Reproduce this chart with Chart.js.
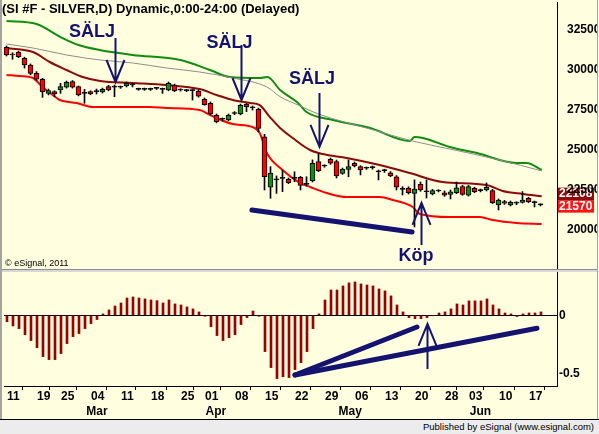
<!DOCTYPE html>
<html>
<head>
<meta charset="utf-8">
<title>SI #F - SILVER,D</title>
<script src="https://cdn.jsdelivr.net/npm/chart.js@4.4.1/dist/chart.umd.min.js"></script>
<style>
  html, body { margin: 0; padding: 0; background: #fff; }
  #frame { position: relative; width: 599px; height: 434px; overflow: hidden; }
  #panel { position: absolute; left: 0; top: 0; width: 597px; height: 419px; background: #ffffe0; }
  #edgeLeft { position: absolute; left: 0; top: 0; width: 2px; height: 419px; background: #a4a4a4; }
  #edgeRight { position: absolute; left: 597px; top: 0; width: 1px; height: 419px; background: #a4a4a4; }
  #split { position: absolute; left: 0; top: 269px; width: 597px; height: 3px; background: #d8d8d8; border-top: 1px solid #8c8c8c; box-sizing: border-box; }
  #priceChart { position: absolute; left: 0; top: 0; }
  #oscChart { position: absolute; left: 0; top: 272px; }
  #footer { position: absolute; left: 0; top: 419px; width: 599px; height: 15px; background: #ececec;
            border-top: 1px solid #000; box-sizing: border-box; text-align: right; padding-right: 5px;
            font: 9.5px 'Liberation Sans', Arial, sans-serif; line-height: 14px; color: #000; }
</style>
</head>
<body>
<div id="frame">
  <div id="panel"></div>
  <canvas id="priceChart" width="597" height="269"></canvas>
  <div id="split"></div>
  <canvas id="oscChart" width="597" height="146"></canvas>
  <div id="edgeLeft"></div>
  <div id="edgeRight"></div>
  <div id="footer">Published by eSignal (www.esignal.com)</div>
</div>
<script>
// --- daily bars (index 0 = first bar on the left) ---
const opens  = [31420,30980,31110,30730,30310,29790,29420,28540,28650,28750,28920,29270,28960,28540,28650,28650,28625,28960,28920,28920,
                29000,29060,28790,28790,28790,28850,28790,28750,29060,28750,28710,28710,28670,28170,27920,27170,26920,26880,27280,27250,
                27850,27640,27540,25830,22670,23130,23230,23170,23230,23290,22850,23080,24270,24000,24420,24270,23540,23790,24170,23960,
                23860,23900,23640,23710,23580,23330,22540,22600,22290,22850,22390,22250,22440,22330,22230,22330,22710,22170,22600,22460,
                22500,22460,21560,21770,21560,21670,21730,21980,21710,21570];
const highs  = [31500,31080,31170,30800,30380,29900,29480,28810,28700,29170,29310,29340,29000,28790,28700,28810,28870,29040,29060,29000,
                29250,29150,28870,28870,28870,28920,28870,29250,29120,28830,28790,28790,28750,28250,28000,27250,27000,27250,27400,27870,
                27920,27750,27620,25980,23960,23380,23750,23250,23640,23350,23330,24380,24790,24080,24500,24370,23870,24380,24250,24020,
                23940,24000,23750,23800,23650,23400,22710,22700,23130,23000,23130,22540,22520,22440,22500,23000,22790,22790,22670,22560,
                22940,22540,21940,21850,21810,21770,22400,22040,21810,21640];
const lows   = [30875,30670,30770,30120,29700,29350,28290,28440,28330,28540,28870,28870,28380,27920,28450,28500,28560,28700,28330,28850,
                28940,28940,28730,28730,28720,28780,28540,28700,28650,28680,28650,28120,28300,27800,27180,26700,26800,26830,27200,27200,
                27400,27500,26140,22500,21980,22290,22400,22900,23020,22500,22750,23000,23650,23920,24100,23250,23480,23330,23940,23440,
                23790,23800,23130,23600,23330,22500,22190,22250,20190,22420,22000,22190,22380,22100,21940,22270,22170,22120,22330,22380,
                22440,21650,21250,21600,21500,21580,21680,21710,21440,21500];
const closes = [30940,30940,30830,30310,29790,29420,28650,28720,28500,28960,29230,28920,28440,28540,28500,28650,28790,28750,28920,28920,
                29170,29060,28790,28790,28790,28850,28790,29170,28710,28750,28710,28710,28370,27840,27250,26770,26920,27170,27280,27790,
                27710,27640,26350,23330,23540,23130,23230,22960,23230,22790,22850,24170,23710,24000,24170,23380,23790,23960,24000,23750,
                23860,23900,23640,23710,23380,22670,22540,22330,22560,22500,22390,22460,22440,22170,22390,22630,22230,22710,22390,22460,
                22670,21710,21870,21670,21730,21670,21870,21770,21710,21570];

// --- overlay lines, read at (bar index, value) points ---
const greenIdx = [0,5,9,12,15.5,21,29,33.9,37.2,42.2,43.5,45.6,48.6,50,54.4,60.6,67.2,68,69.4,73.9,78.4,85,86.7,89.2];
const greenVal = [33060,32875,32060,31560,31250,30940,30625,30000,29560,29500,29560,28750,27940,27375,26875,26375,25560,25810,25750,25190,24810,24190,24190,23750];
const grayIdx  = [0,4.4,10,15.6,21,26.7,32.2,37.7,43.4,45.6,48.6,52,60.6,67.7,73.9,82.2,89.2];
const grayVal  = [31625,31375,30940,30625,30440,30125,29875,29500,28940,28330,27810,27250,26310,25560,25060,24375,23690];
const upperIdx = [0,4.4,7.2,10,12.7,15.6,21,26.7,32.2,35,37.7,40.6,42.2,43.9,45.6,47.7,50.6,52.7,56.7,62.2,67.2,72.7,80,82.7,86,89.2];
const upperVal = [31375,31125,30500,30000,29560,29310,29190,29060,28810,28440,28125,27940,27810,27060,26375,25750,25000,24750,24500,24060,23560,23000,22810,22440,22250,22108];
const lowerIdx = [0,2.2,4.4,6,7.7,8.9,11.7,14.4,18.4,23.9,26.7,32.2,33.9,37.7,41,42.2,43.4,46,48.9,50.6,53.4,56.7,62.2,64.4,67.7,68.9,73.9,78.9,81,85,89.2];
const lowerVal = [29690,29625,29500,28940,28440,28125,27940,27690,27690,27690,27625,27500,27190,26625,26440,26060,24810,23750,22940,22690,22310,22060,22060,21875,21440,21000,20810,20810,20625,20440,20375];

// --- oscillator histogram ---
const oscValues = [-0.055,-0.092,-0.115,-0.167,-0.218,-0.279,-0.356,-0.382,-0.382,-0.330,-0.244,-0.184,-0.158,-0.115,-0.072,-0.037,0.012,0.046,0.080,0.106,
                   0.149,0.158,0.149,0.141,0.132,0.126,0.106,0.132,0.098,0.089,0.072,0.055,0.029,-0.009,-0.098,-0.175,-0.218,-0.193,-0.167,-0.080,
                   -0.020,0.037,-0.009,-0.313,-0.451,-0.546,-0.529,-0.537,-0.468,-0.408,-0.313,-0.115,0.012,0.132,0.218,0.218,0.253,0.279,0.287,0.270,
                   0.261,0.253,0.227,0.210,0.167,0.089,0.029,-0.020,-0.029,-0.029,-0.020,-0.003,0.020,0.029,0.055,0.098,0.089,0.124,0.124,0.124,
                   0.141,0.089,0.055,0.020,0.012,-0.011,0.012,0.020,0.020,0.029];

// --- axes ---
const dayTicks    = [0,5,9,14,19,24,29,33,38,43,48,53,58,63,68,73,77,82,87];
const dayLabels   = ['11','19','25','04','11','18','25','01','08','15','22','29','06','13','20','28','03','10','17'];
const monthTicks  = [15,34.8,57.2,78.9];
const monthLabels = ['Mar','Apr','May','Jun'];
const priceTicks  = [20000,22500,25000,27500,30000,32500];
const oscTicks    = [-0.5,0];
const lastTags    = [22108,21570];

// --- hand-drawn marks (bar index, value) ---
const sellLabels = [{i:14.25, v:32375}, {i:37.17, v:31690}, {i:50.92, v:29440}];
const sellArrows = [{i:18.08, tail:32000, tip:29250}, {i:39.08, tail:31560, tip:28125}, {i:52.08, tail:28560, tip:25190}];
const buyLabel   = {i:68.25, v:18375};
const buyArrow   = {i:69.08, tail:19060, tip:21690};
const oscArrow   = {i:70.0, tail:-0.463, tip:-0.075};
const priceTrendX = [40.9, 67.6];
const priceTrendY = [21250, 19875];
const oscTrendAX = [48.0, 68.33];
const oscTrendAY = [-0.515, -0.101];
const oscTrendBX = [48.0, 88.33];
const oscTrendBY = [-0.515, -0.112];

const FONT = "'Liberation Sans', Arial, sans-serif";
const NAVY = '#141470';
Chart.defaults.font.family = FONT;
Chart.defaults.font.size = 12;
Chart.defaults.font.weight = 'bold';
Chart.defaults.color = '#000';

const pairs = (xs, ys) => xs.map((x, k) => ({ x, y: ys[k] }));
const noPad = s => { s.paddingTop = 0; s.paddingBottom = 0; s.paddingLeft = 0; s.paddingRight = 0; };
const bars = closes.map((c, i) => i);
const bodyColors = closes.map((c, i) => c > opens[i] ? '#109010' : (c < opens[i] ? '#ff0000' : '#000'));

function drawArrow(ctx, xs, ys, a) {
  const x = Math.round(xs.getPixelForValue(a.i)) + 0.5;
  const yTail = ys.getPixelForValue(a.tail);
  const yTip = ys.getPixelForValue(a.tip);
  const back = yTip > yTail ? -22 : 22;
  ctx.beginPath();
  ctx.moveTo(x, yTail);
  ctx.lineTo(x, yTip);
  ctx.moveTo(x - 9, yTip + back);
  ctx.lineTo(x, yTip);
  ctx.lineTo(x + 9, yTip + back);
  ctx.stroke();
}

const priceMarks = {
  id: 'priceMarks',
  beforeDatasetsDraw(chart) {
    // last value tags on the price axis
    const { ctx } = chart;
    const y = chart.scales.y;
    const yLow = y.getPixelForValue(lastTags[1]) + 1.5;
    const boxes = [
      { top: yLow - 6.25 - 12.5, color: '#8c0a0a', text: lastTags[0] },
      { top: yLow - 6.25, color: '#ff1414', text: lastTags[1] }
    ];
    ctx.save();
    ctx.font = 'bold 12px ' + FONT;
    ctx.textBaseline = 'middle';
    boxes.forEach(b => {
      ctx.fillStyle = b.color;
      ctx.fillRect(558, b.top, 36, 12.5);
      ctx.fillStyle = '#fff';
      ctx.fillText(String(b.text), 559, b.top + 6.5);
    });
    ctx.restore();
  },
  afterDraw(chart) {
    const { ctx } = chart;
    const xs = chart.scales.x, ys = chart.scales.y;
    ctx.save();
    ctx.fillStyle = '#000';
    ctx.textBaseline = 'middle';
    ctx.font = 'bold 13px ' + FONT;
    ctx.fillText('(SI #F - SILVER,D) Dynamic,0:00-24:00 (Delayed)', 2, 9.5);
    ctx.font = '9px ' + FONT;
    ctx.fillText('\u00a9 eSignal, 2011', 5, 264);

    ctx.strokeStyle = NAVY;
    ctx.lineWidth = 2;
    sellArrows.forEach(a => drawArrow(ctx, xs, ys, a));
    drawArrow(ctx, xs, ys, buyArrow);

    ctx.fillStyle = NAVY;
    ctx.textAlign = 'center';
    ctx.font = 'bold 18px ' + FONT;
    sellLabels.forEach(t => ctx.fillText('SÄLJ', xs.getPixelForValue(t.i), ys.getPixelForValue(t.v)));
    ctx.fillText('Köp', xs.getPixelForValue(buyLabel.i), ys.getPixelForValue(buyLabel.v));
    ctx.restore();
  }
};

const oscMarks = {
  id: 'oscMarks',
  afterDraw(chart) {
    const { ctx } = chart;
    ctx.save();
    ctx.strokeStyle = NAVY;
    ctx.lineWidth = 2;
    drawArrow(ctx, chart.scales.x, chart.scales.y, oscArrow);
    ctx.restore();
  }
};

const lineSet = (xs, ys, color, width, order) => ({
  type: 'line', data: pairs(xs, ys), borderColor: color, borderWidth: width,
  pointRadius: 0, cubicInterpolationMode: 'monotone', fill: false, order
});

new Chart(document.getElementById('priceChart'), {
  type: 'bar',
  data: {
    datasets: [
      { type: 'line', data: pairs(priceTrendX, priceTrendY), borderColor: NAVY, borderWidth: 5,
        borderCapStyle: 'round', pointRadius: 0, order: 0 },
      { data: bars.map(i => ({ x: i, y: [opens[i], closes[i]] })), backgroundColor: bodyColors,
        borderColor: '#000', borderWidth: 1, borderSkipped: false, barThickness: 5, minBarLength: 1,
        grouped: false, order: 1 },
      { data: bars.map(i => ({ x: i, y: [lows[i], highs[i]] })), backgroundColor: '#000',
        barThickness: 1, grouped: false, order: 2 },
      lineSet(upperIdx, upperVal, '#8c0a0a', 2, 3),
      lineSet(lowerIdx, lowerVal, '#ff0000', 2, 4),
      lineSet(grayIdx, grayVal, '#8c8c8c', 1, 5),
      lineSet(greenIdx, greenVal, '#108c10', 2, 6)
    ]
  },
  options: {
    responsive: false, animation: false, devicePixelRatio: 1,
    layout: { padding: { left: 4, top: 2, right: 0, bottom: 1 } },
    plugins: { legend: { display: false }, tooltip: { enabled: false } },
    scales: {
      x: { type: 'linear', display: false, offset: false, min: -2.5 / 6, max: -2.5 / 6 + 553 / 6 },
      y: {
        type: 'linear', position: 'right', min: 17625, max: 34250,
        afterBuildTicks: s => { s.ticks = priceTicks.map(value => ({ value })); },
        afterFit: s => { s.width = 40; noPad(s); },
        grid: { display: false },
        border: { color: '#000', width: 1 },
        ticks: { autoSkip: false, padding: 2, z: 1, callback: v => String(v) }
      }
    }
  },
  plugins: [priceMarks]
});

new Chart(document.getElementById('oscChart'), {
  type: 'bar',
  data: {
    datasets: [
      { type: 'line', data: pairs(oscTrendAX, oscTrendAY), borderColor: NAVY, borderWidth: 5,
        borderCapStyle: 'round', pointRadius: 0, order: 0 },
      { type: 'line', data: pairs(oscTrendBX, oscTrendBY), borderColor: NAVY, borderWidth: 5,
        borderCapStyle: 'round', pointRadius: 0, order: 0 },
      { data: oscValues.map((v, i) => ({ x: i, y: v })), backgroundColor: '#990000',
        barThickness: 2, grouped: false, order: 1 }
    ]
  },
  options: {
    responsive: false, animation: false, devicePixelRatio: 1,
    layout: { padding: { left: 4, top: 0, right: 0, bottom: 0 } },
    plugins: { legend: { display: false }, tooltip: { enabled: false } },
    scales: {
      x: {
        type: 'linear', position: 'bottom', weight: 0, offset: false, min: -0.5, max: -0.5 + 553 / 6,
        afterBuildTicks: s => { s.ticks = dayTicks.map(value => ({ value })); },
        afterFit: s => { s.height = 18; noPad(s); },
        grid: { drawOnChartArea: false, color: '#000', tickLength: 4 },
        border: { color: '#000', width: 1 },
        ticks: { autoSkip: false, maxRotation: 0, align: 'start', padding: -1,
                 callback: (v, k) => dayLabels[k] }
      },
      x2: {
        type: 'linear', position: 'bottom', weight: 1, offset: false, min: -0.5, max: -0.5 + 553 / 6,
        afterBuildTicks: s => { s.ticks = monthTicks.map(value => ({ value })); },
        afterFit: s => { s.height = 14; noPad(s); },
        grid: { display: false, drawTicks: false }, border: { display: false },
        ticks: { autoSkip: false, maxRotation: 0, padding: 0, callback: (v, k) => monthLabels[k] }
      },
      y: {
        type: 'linear', position: 'right', min: -0.6095, max: 0.373,
        afterBuildTicks: s => { s.ticks = oscTicks.map(value => ({ value })); },
        afterFit: s => { s.width = 40; noPad(s); },
        grid: { color: c => (c.tick && c.tick.value === 0) ? '#000' : 'rgba(0,0,0,0)', drawTicks: false },
        border: { color: '#000', width: 1 },
        ticks: { autoSkip: false, padding: 2, callback: v => v === 0 ? '0' : '-0.5' }
      }
    }
  },
  plugins: [oscMarks]
});
</script>
</body>
</html>
